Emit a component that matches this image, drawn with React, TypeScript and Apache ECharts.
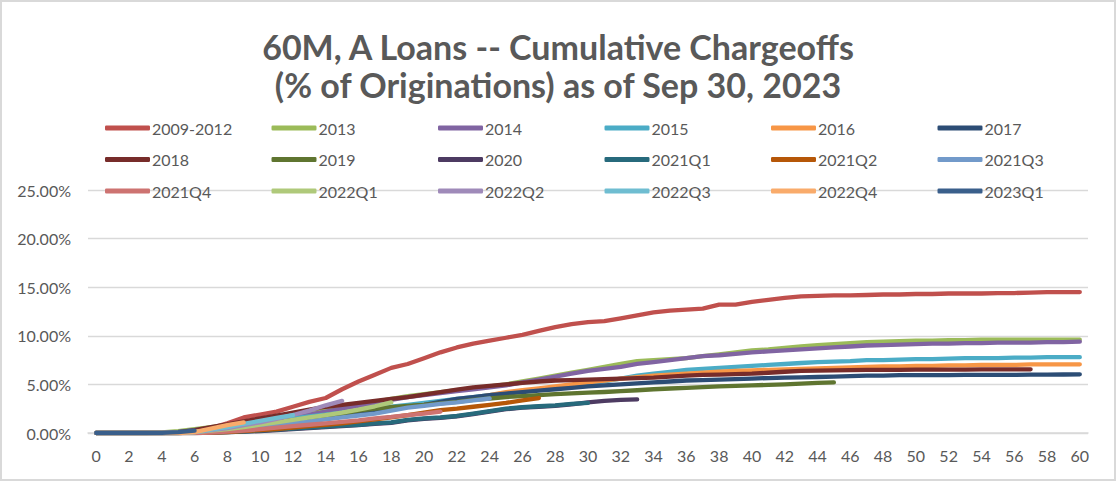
import React, { useEffect, useRef } from "react";
import * as echarts from "echarts";

const months = [
  "0", "1", "2", "3", "4", "5", "6", "7", "8", "9", "10", "11", "12", "13", "14", "15", "16", "17", "18", "19", "20",
  "21", "22", "23", "24", "25", "26", "27", "28", "29", "30", "31", "32", "33", "34", "35", "36", "37", "38", "39", "40",
  "41", "42", "43", "44", "45", "46", "47", "48", "49", "50", "51", "52", "53", "54", "55", "56", "57", "58", "59", "60",
];

const v2009_2012 = [
  0, 0, 0, 0, 0, 0, 0.05, 0.5, 1.0, 1.6, 1.9, 2.2, 2.7, 3.2, 3.6, 4.5, 5.3, 6.0, 6.7, 7.1,
  7.7, 8.3, 8.8, 9.2, 9.5, 9.8, 10.1, 10.5, 10.9, 11.2, 11.4, 11.5, 11.8, 12.1, 12.4, 12.6, 12.7, 12.8, 13.2, 13.2,
  13.5, 13.7, 13.9, 14.05, 14.1, 14.15, 14.15, 14.2, 14.25, 14.25, 14.3, 14.3, 14.35, 14.35, 14.35, 14.4, 14.4, 14.45, 14.5, 14.5,
  14.5,
];
const v2013 = [
  0, 0, 0, 0, 0.05, 0.2, 0.4, 0.6, 0.8, 1.0, 1.2, 1.4, 1.7, 2.0, 2.3, 2.6, 2.9, 3.2, 3.5, 3.8,
  4.0, 4.2, 4.4, 4.6, 4.8, 5.0, 5.3, 5.6, 5.9, 6.2, 6.5, 6.8, 7.1, 7.4, 7.5, 7.6, 7.7, 7.9, 8.1, 8.3,
  8.5, 8.6, 8.75, 8.9, 9.05, 9.15, 9.25, 9.35, 9.4, 9.45, 9.5, 9.5, 9.55, 9.55, 9.6, 9.6, 9.6, 9.6, 9.6, 9.6,
  9.6,
];
const v2014 = [
  0, 0, 0, 0, 0, 0.1, 0.3, 0.5, 0.7, 0.9, 1.1, 1.3, 1.6, 1.9, 2.2, 2.5, 2.8, 3.1, 3.4, 3.7,
  3.9, 4.1, 4.3, 4.5, 4.7, 4.9, 5.2, 5.5, 5.8, 6.1, 6.4, 6.6, 6.8, 7.1, 7.3, 7.5, 7.7, 7.9, 8.0, 8.15,
  8.3, 8.4, 8.5, 8.6, 8.7, 8.8, 8.9, 9.0, 9.05, 9.1, 9.15, 9.2, 9.2, 9.25, 9.25, 9.3, 9.3, 9.3, 9.35, 9.35,
  9.4,
];
const v2015 = [
  0, 0, 0, 0, 0, 0.1, 0.3, 0.5, 0.7, 0.9, 1.1, 1.3, 1.5, 1.7, 1.9, 2.1, 2.3, 2.5, 2.7, 2.9,
  3.1, 3.3, 3.5, 3.7, 3.9, 4.1, 4.3, 4.5, 4.7, 4.9, 5.1, 5.3, 5.6, 5.9, 6.1, 6.3, 6.5, 6.6, 6.7, 6.8,
  6.9, 7.0, 7.1, 7.2, 7.3, 7.35, 7.4, 7.5, 7.5, 7.55, 7.6, 7.6, 7.65, 7.7, 7.7, 7.7, 7.75, 7.75, 7.8, 7.8,
  7.8,
];
const v2016 = [
  0, 0, 0, 0, 0, 0, 0.1, 0.3, 0.5, 0.7, 0.9, 1.1, 1.3, 1.5, 1.7, 1.9, 2.1, 2.3, 2.5, 2.7,
  2.9, 3.1, 3.3, 3.6, 3.9, 4.2, 4.4, 4.6, 4.8, 5.0, 5.2, 5.4, 5.6, 5.75, 5.9, 6.0, 6.1, 6.2, 6.3, 6.4,
  6.45, 6.5, 6.55, 6.6, 6.65, 6.7, 6.75, 6.8, 6.85, 6.85, 6.9, 6.9, 6.95, 6.95, 7.0, 7.0, 7.0, 7.05, 7.05, 7.05,
  7.07,
];
const v2017 = [
  0, 0, 0, 0, 0, 0, 0.1, 0.3, 0.5, 0.7, 0.9, 1.1, 1.3, 1.5, 1.7, 1.9, 2.1, 2.3, 2.5, 2.7,
  2.9, 3.2, 3.5, 3.7, 3.9, 4.05, 4.2, 4.35, 4.5, 4.65, 4.8, 4.9, 5.0, 5.1, 5.2, 5.3, 5.4, 5.45, 5.5, 5.55,
  5.6, 5.65, 5.7, 5.73, 5.76, 5.8, 5.85, 5.9, 5.9, 5.95, 5.95, 5.95, 5.95, 5.97, 5.97, 5.98, 5.98, 6.0, 6.0, 6.02,
  6.04,
];
const v2018 = [
  0, 0, 0, 0, 0, 0.1, 0.3, 0.6, 0.9, 1.2, 1.5, 1.8, 2.1, 2.4, 2.7, 2.9, 3.1, 3.3, 3.5, 3.7,
  3.95, 4.2, 4.45, 4.7, 4.85, 5.0, 5.15, 5.3, 5.4, 5.45, 5.5, 5.55, 5.6, 5.65, 5.7, 5.8, 5.9, 5.97, 6.0, 6.05,
  6.1, 6.2, 6.3, 6.4, 6.42, 6.45, 6.47, 6.5, 6.5, 6.5, 6.52, 6.52, 6.53, 6.53, 6.54, 6.55, 6.55, 6.55,
];
const v2019 = [
  0, 0, 0, 0, 0, 0, 0.1, 0.3, 0.5, 0.7, 0.9, 1.1, 1.3, 1.5, 1.8, 2.0, 2.3, 2.5, 2.65, 2.8,
  2.9, 3.05, 3.2, 3.4, 3.55, 3.7, 3.8, 3.9, 4.0, 4.08, 4.15, 4.22, 4.3, 4.4, 4.5, 4.58, 4.65, 4.72, 4.8, 4.85,
  4.9, 4.95, 5.0, 5.08, 5.15, 5.2,
];
const v2020 = [
  0, 0, 0, 0, 0, 0, 0, 0.05, 0.1, 0.15, 0.2, 0.3, 0.4, 0.5, 0.6, 0.7, 0.8, 0.95, 1.05, 1.3,
  1.45, 1.55, 1.7, 1.95, 2.2, 2.45, 2.6, 2.7, 2.8, 2.95, 3.15, 3.3, 3.4, 3.45,
];
const v2021Q1 = [
  0, 0, 0, 0, 0, 0, 0, 0.05, 0.1, 0.15, 0.25, 0.35, 0.45, 0.55, 0.65, 0.75, 0.85, 1.0, 1.1, 1.35,
  1.5, 1.6, 1.75, 2.0, 2.25, 2.5, 2.65, 2.75, 2.85, 3.0, 3.1,
];
const v2021Q2 = [
  0, 0, 0, 0, 0, 0, 0, 0.05, 0.1, 0.2, 0.3, 0.4, 0.55, 0.7, 0.85, 1.0, 1.2, 1.4, 1.6, 1.85,
  2.1, 2.35, 2.5, 2.7, 2.9, 3.1, 3.35, 3.6,
];
const v2021Q3 = [
  0, 0, 0, 0, 0, 0, 0.05, 0.15, 0.3, 0.45, 0.6, 0.8, 1.0, 1.2, 1.4, 1.6, 1.8, 2.0, 2.3, 2.6,
  2.8, 3.0, 3.15, 3.35, 3.55,
];
const v2021Q4 = [
  0, 0, 0, 0, 0, 0, 0, 0.05, 0.15, 0.25, 0.4, 0.55, 0.7, 0.85, 1.0, 1.15, 1.3, 1.5, 1.65, 1.85,
  2.0, 2.2,
];
const v2022Q1 = [
  0, 0, 0, 0, 0, 0, 0.1, 0.25, 0.4, 0.6, 0.85, 1.1, 1.35, 1.6, 1.85, 2.1, 2.4, 2.75, 3.15,
];
const v2022Q2 = [0, 0, 0, 0, 0, 0, 0.1, 0.3, 0.5, 0.8, 1.1, 1.45, 1.85, 2.3, 2.85, 3.3];
const v2022Q3 = [0, 0, 0, 0, 0, 0, 0.1, 0.35, 0.6, 0.95, 1.25, 1.55, 1.85];
const v2022Q4 = [0, 0, 0, 0, 0, 0, 0.1, 0.45, 0.8, 1.1];
const v2023Q1 = [0, 0, 0, 0, 0.02, 0.1, 0.25];

const seriesNames = [
  "2009-2012", "2013", "2014", "2015", "2016", "2017",
  "2018", "2019", "2020", "2021Q1", "2021Q2", "2021Q3",
  "2021Q4", "2022Q1", "2022Q2", "2022Q3", "2022Q4", "2023Q1",
];
const seriesColors = [
  "#C0504D", "#9BBB59", "#8064A2", "#4BACC6", "#F79646", "#2C4D75",
  "#772C2A", "#5F7530", "#4D3B62", "#276A7C", "#B65708", "#729ACA",
  "#CD7371", "#AFC97A", "#9F8AB9", "#6FBDD1", "#F9AB6B", "#3A5F8B",
];
const seriesValues = [
  v2009_2012, v2013, v2014, v2015, v2016, v2017,
  v2018, v2019, v2020, v2021Q1, v2021Q2, v2021Q3,
  v2021Q4, v2022Q1, v2022Q2, v2022Q3, v2022Q4, v2023Q1,
];
const yTicks = { min: 0, max: 25, interval: 5 };
const titleLines = ["60M, A Loans -- Cumulative Chargeoffs", "(% of Originations) as of Sep 30, 2023"];

export default function App() {
  const ref = useRef<HTMLDivElement>(null);
  useEffect(() => {
    if (!ref.current) return;
    const chart = echarts.init(ref.current, null, { renderer: "svg" });
    const font = "Lato, 'Open Sans', sans-serif";
    const gray = "#595959";
    const legends = seriesNames.map((name, i) => {
      const row = Math.floor(i / 6);
      const col = i % 6;
      return {
        data: [name],
        left: 105 + col * 166.5,
        top: 128 + row * 31.5 - 9,
        orient: "horizontal",
        icon: "roundRect",
        itemWidth: 45,
        itemHeight: 5,
        itemGap: 0,
        padding: 0,
        selectedMode: false,
        textStyle: { color: gray, fontSize: 16, fontFamily: font, lineHeight: 18, padding: [0, 0, 0, -3] },
      };
    });
    chart.setOption({
      animation: false,
      backgroundColor: "#ffffff",
      legend: legends,
      grid: { left: 88, right: 28, top: 190, bottom: 49, containLabel: false },
      xAxis: {
        type: "category",
        data: months,
        boundaryGap: true,
        axisTick: { show: false },
        axisLine: { lineStyle: { color: "#D9D9D9", width: 1.5 } },
        axisLabel: { interval: 1, color: gray, fontSize: 16, fontFamily: font, margin: 14 },
      },
      yAxis: {
        type: "value",
        min: yTicks.min,
        max: yTicks.max,
        interval: yTicks.interval,
        axisLine: { show: false },
        axisTick: { show: false },
        splitLine: { lineStyle: { color: "#D9D9D9", width: 1.3 } },
        axisLabel: {
          color: gray,
          fontSize: 16,
          fontFamily: font,
          margin: 17,
          formatter: (v: number) => v.toFixed(2) + "%",
        },
      },
      series: seriesNames.map((name, i) => ({
        name,
        type: "line",
        data: seriesValues[i],
        symbol: "none",
        showSymbol: false,
        color: seriesColors[i],
        itemStyle: { color: seriesColors[i] },
        lineStyle: { color: seriesColors[i], width: 4.3, cap: "round", join: "round" },
      })),
      graphic: [
        {
          type: "rect",
          shape: { x: 1, y: 1, width: 1114, height: 479 },
          style: { fill: "none", stroke: "#D9D9D9", lineWidth: 2 },
          silent: true,
        },
        {
          type: "text",
          x: 558,
          y: 46,
          style: {
            text: titleLines[0],
            align: "center",
            verticalAlign: "middle",
            fill: gray,
            font: `bold 34px ${font}`,
          },
        },
        {
          type: "text",
          x: 558,
          y: 84,
          style: {
            text: titleLines[1],
            align: "center",
            verticalAlign: "middle",
            fill: gray,
            font: `bold 34px ${font}`,
          },
        },
      ],
    });
    return () => chart.dispose();
  }, []);
  return (
    <div
      ref={ref}
      style={{ position: "fixed", left: 0, top: 0, width: 1116, height: 482, background: "#fff" }}
    />
  );
}
